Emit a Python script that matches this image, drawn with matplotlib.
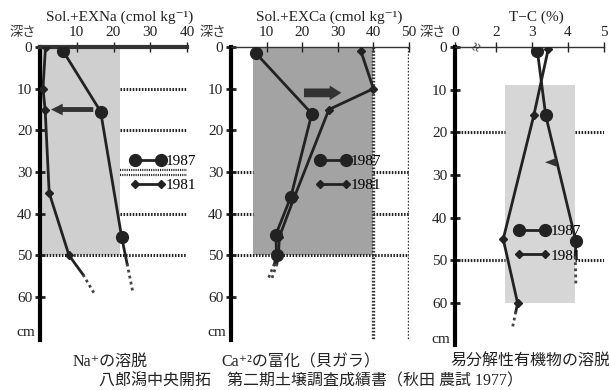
import numpy as np
import matplotlib
matplotlib.use("Agg")
import matplotlib.pyplot as plt
from matplotlib.lines import Line2D

plt.rcParams['font.family'] = ['Liberation Serif', 'DejaVu Serif', 'Noto Sans CJK JP']

# --- data (depth in cm) ---
# each series: marked points, then an unmarked solid end and a dotted tail
# Na panel
na87_x = [6.3, 16.5, 22.2]
na87_d = [1.0, 15.5, 45.5]
na87_end_x = [22.2, 23.7]
na87_end_d = [45.5, 52.0]
na87_tail_x = [23.7, 25.3]
na87_tail_d = [52.0, 59.0]
na81_x = [1.5, 0.8, 1.4, 2.5, 7.9]
na81_d = [0.0, 10.0, 15.0, 35.0, 50.0]
na81_end_x = [7.9, 11.7]
na81_end_d = [50.0, 54.6]
na81_tail_x = [11.7, 15.0]
na81_tail_d = [54.6, 59.5]
na_shade = (0, 21.8, 0, 50)

# Ca panel
ca87_x = [7.0, 22.7, 16.8, 12.6, 12.8]
ca87_d = [1.5, 16.0, 36.0, 45.0, 50.0]
ca87_end_x = [12.8, 12.2]
ca87_end_d = [50.0, 52.0]
ca87_tail_x = [12.2, 10.5]
ca87_tail_d = [52.0, 55.5]
ca81_x = [36.5, 40.0, 27.5, 17.8, 13.6, 13.3]
ca81_d = [1.0, 10.0, 15.0, 36.0, 45.5, 50.0]
ca81_end_x = [13.3, 12.9]
ca81_end_d = [50.0, 52.0]
ca81_tail_x = [12.9, 11.5]
ca81_tail_d = [52.0, 55.5]
ca_shade = (6.3, 40, 0, 50)

# T-C panel
tc87_x = [3.15, 3.38, 4.22]
tc87_d = [1.0, 16.0, 45.5]
tc87_end_x = [4.22, 4.2]
tc87_end_d = [45.5, 49.0]
tc87_tail_x = [4.2, 4.22]
tc87_tail_d = [49.0, 56.0]
tc81_x = [3.45, 3.05, 2.2, 2.6]
tc81_d = [0.5, 16.0, 45.0, 60.0]
tc81_end_x = [2.6, 2.55]
tc81_end_d = [60.0, 62.0]
tc81_tail_x = [2.55, 2.45]
tc81_tail_d = [62.0, 66.0]
tc_shade = (2.25, 4.2, 9, 60)

W, H = 609, 390
fig = plt.figure(figsize=(W / 100, H / 100), dpi=100)
fig.patch.set_facecolor('white')
INK = '#222222'


def px_axes(left, right, top, bottom):
    return fig.add_axes([left / W, 1 - bottom / H, (right - left) / W, (bottom - top) / H])


def ftext(x, y, s, **kw):
    kw.setdefault('color', INK)
    fig.text(x / W, 1 - y / H, s, ha='center', va='center', **kw)


def setup(ax, xlim, ylim, xticks, xlabels, top_lw=1.0):
    ax.set_xlim(*xlim)
    ax.set_ylim(*ylim)
    ax.patch.set_alpha(0)
    for s in ['right', 'bottom']:
        ax.spines[s].set_visible(False)
    ax.spines['left'].set_linewidth(3)
    ax.spines['top'].set_linewidth(top_lw)
    ax.spines['top'].set_color('#333333')
    ax.xaxis.tick_top()
    ax.set_xticks(xticks)
    ax.set_xticklabels(xlabels)
    ax.tick_params(axis='x', direction='inout', length=7, width=1, pad=2,
                   labelsize=11, colors=INK)
    ax.set_yticks([0, 10, 20, 30, 40, 50, 60])
    ax.tick_params(axis='y', direction='inout', length=7, width=2, pad=2,
                   labelsize=11, colors=INK)
    ax.text(-0.03, 68.6, 'cm', transform=ax.get_yaxis_transform(),
            ha='right', va='center', fontsize=11, color=INK)


def dotted(ax, x0, x1, d, lw=2.2):
    ax.plot([x0, x1], [d, d], color=INK, lw=lw, ls=(0, (0.5, 0.5)),
            solid_capstyle='butt', zorder=2)


def shade(ax, box, color):
    x0, x1, d0, d1 = box
    ax.fill_between([x0, x1], [d0, d0], [d1, d1], color=color, lw=0, zorder=0)


def arrow(ax, x0, x1, d, head_w, tail_w):
    ax.annotate('', xy=(x1, d), xytext=(x0, d),
                arrowprops=dict(arrowstyle=f'simple,head_length=0.6,head_width={head_w},'
                                           f'tail_width={tail_w}',
                                color='#333333', lw=0, mutation_scale=14,
                                shrinkA=0, shrinkB=0))


STYLE = {'87': dict(marker='o', ms=8.5), '81': dict(marker='D', ms=4)}


def series(ax, x, d, ex, ed, tx, td, kind):
    ax.plot(x, d, color=INK, lw=2, zorder=3, **STYLE[kind])
    ax.plot(ex, ed, color=INK, lw=2, zorder=3)
    ax.plot(tx, td, color='#444444', lw=2, ls=(0, (1, 1.2)), zorder=3)


def legend(ax, loc):
    h87 = Line2D([], [], color=INK, lw=2, **STYLE['87'])
    h81 = Line2D([], [], color=INK, lw=2, **STYLE['81'])
    ax.legend([h87, h81], ['1987', '1981'], numpoints=2, frameon=False,
              loc='upper left', bbox_to_anchor=loc, handlelength=2.3,
              handletextpad=0.05, labelspacing=0.7, fontsize=11, borderpad=0)


# --- panel 1: Na ---
ax1 = px_axes(40, 187, 47, 340)
setup(ax1, (0, 40), (70.3, 0), [10, 20, 30, 40], ['10', '20', '30', '40'], top_lw=3)
shade(ax1, na_shade, '#cfcfcf')
for d in [10, 20, 40]:
    dotted(ax1, na_shade[1], 40, d)
dotted(ax1, na_shade[1], 40, 29.6, lw=1.6)
dotted(ax1, na_shade[1], 40, 30.6, lw=1.6)
dotted(ax1, 0, 40, 50)
series(ax1, na87_x, na87_d, na87_end_x, na87_end_d, na87_tail_x, na87_tail_d, '87')
series(ax1, na81_x, na81_d, na81_end_x, na81_end_d, na81_tail_x, na81_tail_d, '81')
arrow(ax1, 14.5, 3.0, 15, 0.6, 0.25)
legend(ax1, (0.56, 0.66))

# --- panel 2: Ca ---
ax2 = px_axes(231, 409, 47, 340)
setup(ax2, (0, 50), (70.3, 0), [10, 20, 30, 40, 50], ['10', '20', '30', '40', '50'])
shade(ax2, ca_shade, '#a3a3a3')
ax2.plot([40, 40], [0, 70.3], color='#333333', lw=2.4, ls=(0, (0.5, 0.5)), zorder=2)
ax2.plot([50, 50], [0, 70.3], color='#333333', lw=2.4, ls=(0, (0.5, 0.5)), zorder=2)
for d in [30, 40]:
    dotted(ax2, 0, ca_shade[0], d)
    dotted(ax2, 40, 50, d)
dotted(ax2, 0, 50, 50)
series(ax2, ca87_x, ca87_d, ca87_end_x, ca87_end_d, ca87_tail_x, ca87_tail_d, '87')
series(ax2, ca81_x, ca81_d, ca81_end_x, ca81_end_d, ca81_tail_x, ca81_tail_d, '81')
arrow(ax2, 20.5, 31, 11, 0.75, 0.45)
legend(ax2, (0.43, 0.66))

# --- panel 3: T-C ---
ax3 = px_axes(455, 604, 47, 345)
setup(ax3, (0.86, 5), (69.8, 0), [0.86, 2, 3, 4, 5], ['0', '2', '3', '4', '5'])
shade(ax3, tc_shade, '#d6d6d6')
for d in [20, 50]:
    dotted(ax3, 0.86, tc_shade[0], d)
    dotted(ax3, tc_shade[1], 5, d)
series(ax3, tc87_x, tc87_d, tc87_end_x, tc87_end_d, tc87_tail_x, tc87_tail_d, '87')
series(ax3, tc81_x, tc81_d, tc81_end_x, tc81_end_d, tc81_tail_x, tc81_tail_d, '81')
arrow(ax3, 3.66, 3.36, 27, 0.45, 0.3)
legend(ax3, (0.35, 0.43))
ax3.text(1.5, 0, '≈', ha='center', va='center', fontsize=12, rotation=70,
         color='#333333', zorder=4)

# --- titles and labels ---
ftext(120, 17, 'Sol.+EXNa (cmol kg⁻¹)', fontsize=11)
ftext(329, 17, 'Sol.+EXCa (cmol kg⁻¹)', fontsize=11)
ftext(536, 17, 'T−C (%)', fontsize=11)
for x in [23, 213, 433]:
    ftext(x, 33, '深さ', fontsize=9.5, color='#333333')

ftext(110, 362, 'Na⁺の溶脱', fontsize=11.5)
ftext(301, 362, 'Ca⁺²の富化（貝ガラ）', fontsize=11.5)
ftext(530, 362, '易分解性有機物の溶脱', fontsize=11.5)
ftext(311, 381, '八郎潟中央開拓　第二期土壌調査成績書（秋田 農試 1977）', fontsize=11.5)

fig.savefig('out.png', dpi=100)
